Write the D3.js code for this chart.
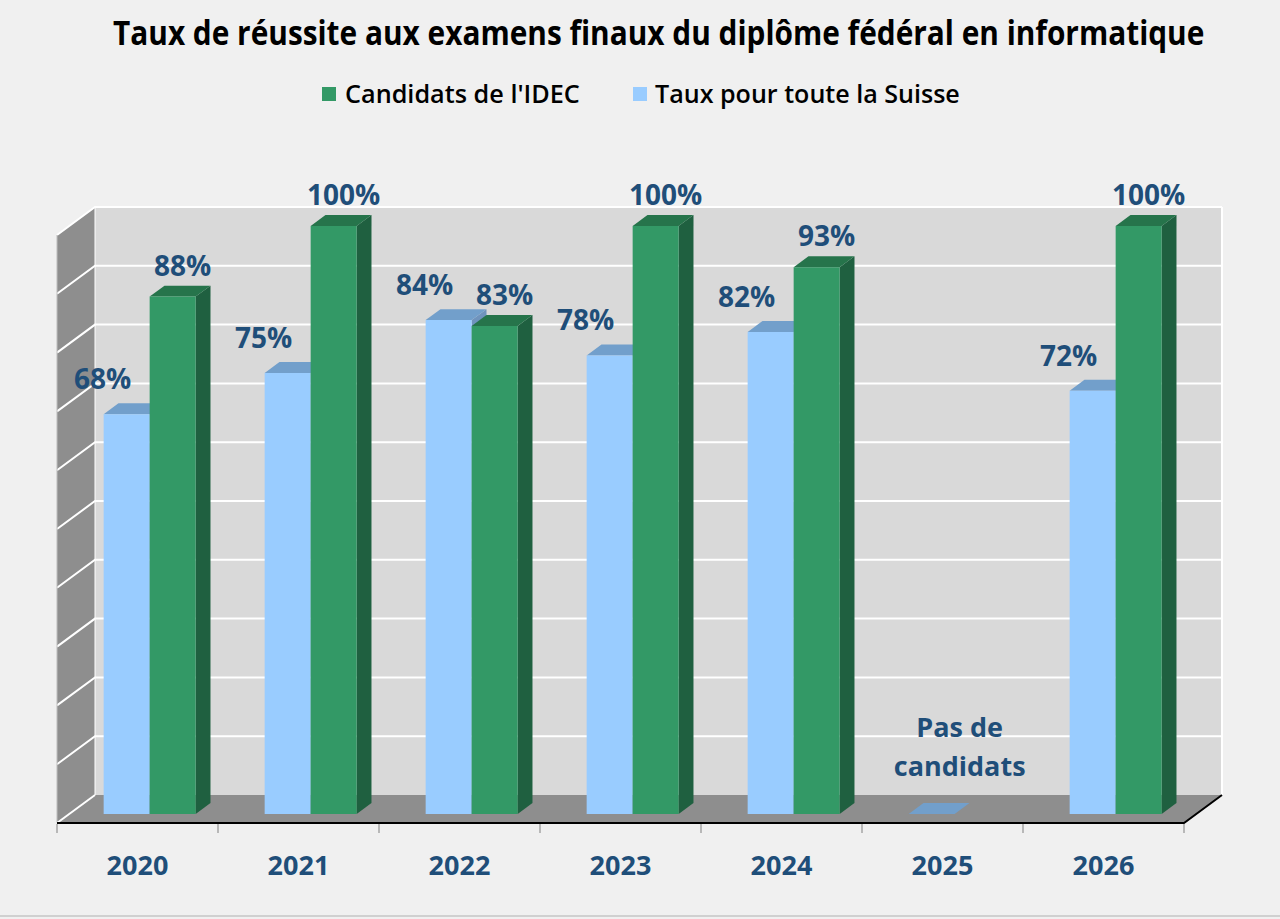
<!DOCTYPE html>
<html>
<head>
<meta charset="utf-8">
<script src="https://cdn.jsdelivr.net/npm/d3@7"></script>
<style>
  html, body { margin: 0; padding: 0; background: #f0f0f0; }
  svg { display: block; }
</style>
</head>
<body>
<svg id="chart" width="1280" height="919"></svg>
<script>
// ---- data ----
const title = "Taux de réussite aux examens finaux du diplôme fédéral en informatique";
const years = ["2020", "2021", "2022", "2023", "2024", "2025", "2026"];
const seriesNames = ["Candidats de l'IDEC", "Taux pour toute la Suisse"];
const suisseValues = [68, 75, 84, 78, 82, 0, 72];
const idecValues = [88, 100, 83, 100, 93, null, 100];
const noCandidateNote = ["Pas de", "candidats"];
const gridTicks = [0, 10, 20, 30, 40, 50, 60, 70, 80, 90, 100];

// ---- styles ----
const C = {
  bg: "#f0f0f0", wall: "#d9d9d9", side: "#8e8e8e",
  blueFront: "#99ccff", blueTop: "#729fcb", blueSide: "#6f93bd",
  greenFront: "#339966", greenTop: "#26744b", greenSide: "#1f6040",
  label: "#1f4e79"
};

const svg = d3.select("#chart");
svg.append("rect").attr("width", 1280).attr("height", 919).attr("fill", C.bg);
svg.append("rect").attr("x", 0).attr("y", 915).attr("width", 1280).attr("height", 2).attr("fill", "#d0d0d0");

// 3D projection
const DX = 38, DY = 28;
const xBand = d3.scaleBand().domain(years).range([57, 1184]);
const yBack = d3.scaleLinear().domain([0, 100]).range([795, 207]);
const proj = (x, v, z) => [x + z * DX, yBack(v) + (1 - z) * DY];
const poly = pts => pts.map(p => p.join(",")).join(" ");

const x0 = xBand.range()[0], x1 = xBand.range()[1];

// back wall
svg.append("polygon")
  .attr("points", poly([proj(x0, 0, 1), proj(x1, 0, 1), proj(x1, 100, 1), proj(x0, 100, 1)]))
  .attr("fill", C.wall);
// left wall
svg.append("polygon")
  .attr("points", poly([proj(x0, 0, 0), proj(x0, 0, 1), proj(x0, 100, 1), proj(x0, 100, 0)]))
  .attr("fill", C.side);
// floor
svg.append("polygon")
  .attr("points", poly([proj(x0, 0, 0), proj(x1, 0, 0), proj(x1, 0, 1), proj(x0, 0, 1)]))
  .attr("fill", C.side);

// gridlines
const grid = svg.append("g").attr("stroke", "#ffffff").attr("stroke-width", 2).attr("fill", "none");
gridTicks.filter(t => t > 0).forEach(t => {
  const a = proj(x0, t, 0), b = proj(x0, t, 1), c = proj(x1, t, 1);
  grid.append("polyline").attr("points", poly([a, b, c]));
});
// wall edges
grid.append("line").attr("x1", proj(x1, 0, 1)[0]).attr("y1", proj(x1, 0, 1)[1])
  .attr("x2", proj(x1, 100, 1)[0]).attr("y2", proj(x1, 100, 1)[1]);
grid.append("line").attr("x1", proj(x0, 0, 1)[0]).attr("y1", proj(x0, 0, 1)[1])
  .attr("x2", proj(x0, 100, 1)[0]).attr("y2", proj(x0, 100, 1)[1]).attr("stroke-width", 1);
grid.append("line").attr("x1", proj(x0, 0, 0)[0]).attr("y1", proj(x0, 0, 0)[1])
  .attr("x2", proj(x0, 100, 0)[0]).attr("y2", proj(x0, 100, 0)[1]).attr("stroke", "#bdbdbd").attr("stroke-width", 1);
grid.append("line").attr("x1", proj(x0, 0, 0)[0]).attr("y1", proj(x0, 0, 0)[1])
  .attr("x2", proj(x0, 0, 1)[0]).attr("y2", proj(x0, 0, 1)[1]);

// floor front edge + ticks
const fl = proj(x0, 0, 0), fr = proj(x1, 0, 0), br = proj(x1, 0, 1);
svg.append("polyline").attr("points", poly([fl, fr, br]))
  .attr("fill", "none").attr("stroke", "#000").attr("stroke-width", 2);
const tickXs = years.map(y => xBand(y)).concat([x1]);
svg.append("g").selectAll("line").data(tickXs).join("line")
  .attr("x1", d => d).attr("x2", d => d)
  .attr("y1", fl[1] + 1).attr("y2", fl[1] + 10)
  .attr("stroke", "#808080").attr("stroke-width", 1);

// bars
const inner = d3.scaleBand().domain(["suisse", "idec"])
  .range([xBand.bandwidth() / 2 - 46, xBand.bandwidth() / 2 + 46]);
const bw = inner.bandwidth();
const ZF = 0.32, ZB = 0.71;
const bars = [];
years.forEach((yr, i) => {
  bars.push({ yr, key: "suisse", v: suisseValues[i], front: C.blueFront, top: C.blueTop, side: C.blueSide });
  bars.push({ yr, key: "idec", v: idecValues[i], front: C.greenFront, top: C.greenTop, side: C.greenSide });
});
const barG = svg.append("g");
bars.filter(b => b.v !== null).forEach(b => {
  const a = xBand(b.yr) + inner(b.key), c = a + bw;
  const g = barG.append("g");
  g.append("polygon").attr("points", poly([proj(c, 0, ZF), proj(c, 0, ZB), proj(c, b.v, ZB), proj(c, b.v, ZF)])).attr("fill", b.side);
  g.append("polygon").attr("points", poly([proj(a, b.v, ZF), proj(c, b.v, ZF), proj(c, b.v, ZB), proj(a, b.v, ZB)])).attr("fill", b.top);
  if (b.v > 0) g.append("polygon").attr("points", poly([proj(a, 0, ZF), proj(c, 0, ZF), proj(c, b.v, ZF), proj(a, b.v, ZF)])).attr("fill", b.front);
});

// value labels
const labelFont = "'Open Sans', 'Noto Sans', sans-serif";
const labG = svg.append("g").attr("font-family", labelFont).attr("font-weight", 700)
  .attr("font-size", 28).attr("fill", C.label).attr("text-anchor", "middle");
bars.filter(b => b.v !== null && b.v > 0).forEach(b => {
  const cx = proj(xBand(b.yr) + inner(b.key) + bw / 2, b.v, ZF)[0];
  const ty = proj(0, b.v, ZB)[1];
  const dx = b.key === "suisse" ? -24 : 10;
  const dy = b.key === "suisse" ? -14 : -10;
  labG.append("text").attr("x", cx + dx).attr("y", ty + dy).text(b.v + "%");
});
// note for year without candidates
const noteYear = years[suisseValues.findIndex((v, i) => v === 0 && idecValues[i] === null)];
const noteX = proj(xBand(noteYear) + xBand.bandwidth() / 2, 0, ZF)[0] + 5;
noCandidateNote.forEach((line, k) => {
  labG.append("text").attr("x", noteX).attr("y", 737 + k * 39).attr("font-size", 27).text(line);
});

// x axis labels
svg.append("g").selectAll("text").data(years).join("text")
  .attr("x", d => xBand(d) + xBand.bandwidth() / 2)
  .attr("y", 875)
  .attr("text-anchor", "middle")
  .attr("font-family", labelFont).attr("font-weight", 700).attr("font-size", 27)
  .attr("fill", C.label)
  .text(d => d);

// helper: text horizontally condensed to a target width
function fittedText(parent, str, x, y, width, size, weight) {
  const g = parent.append("g");
  const t = g.append("text").attr("x", 0).attr("y", 0)
    .attr("font-family", labelFont).attr("font-weight", weight).attr("font-size", size)
    .attr("fill", "#000").text(str);
  const w = t.node().getComputedTextLength();
  g.attr("transform", `translate(${x},${y}) scale(${width / w},1)`);
  return g;
}

// title
fittedText(svg, title, 113, 45, 1092, 34, 700);

// legend
const legend = [
  { name: seriesNames[0], color: C.greenFront, sx: 322, tx: 345, tw: 235 },
  { name: seriesNames[1], color: C.blueFront, sx: 633, tx: 655, tw: 305 }
];
const lg = svg.append("g");
legend.forEach(l => {
  lg.append("rect").attr("x", l.sx).attr("y", 87).attr("width", 14).attr("height", 14).attr("fill", l.color);
  fittedText(lg, l.name, l.tx, 103, l.tw, 25, 600);
});
</script>
</body>
</html>
